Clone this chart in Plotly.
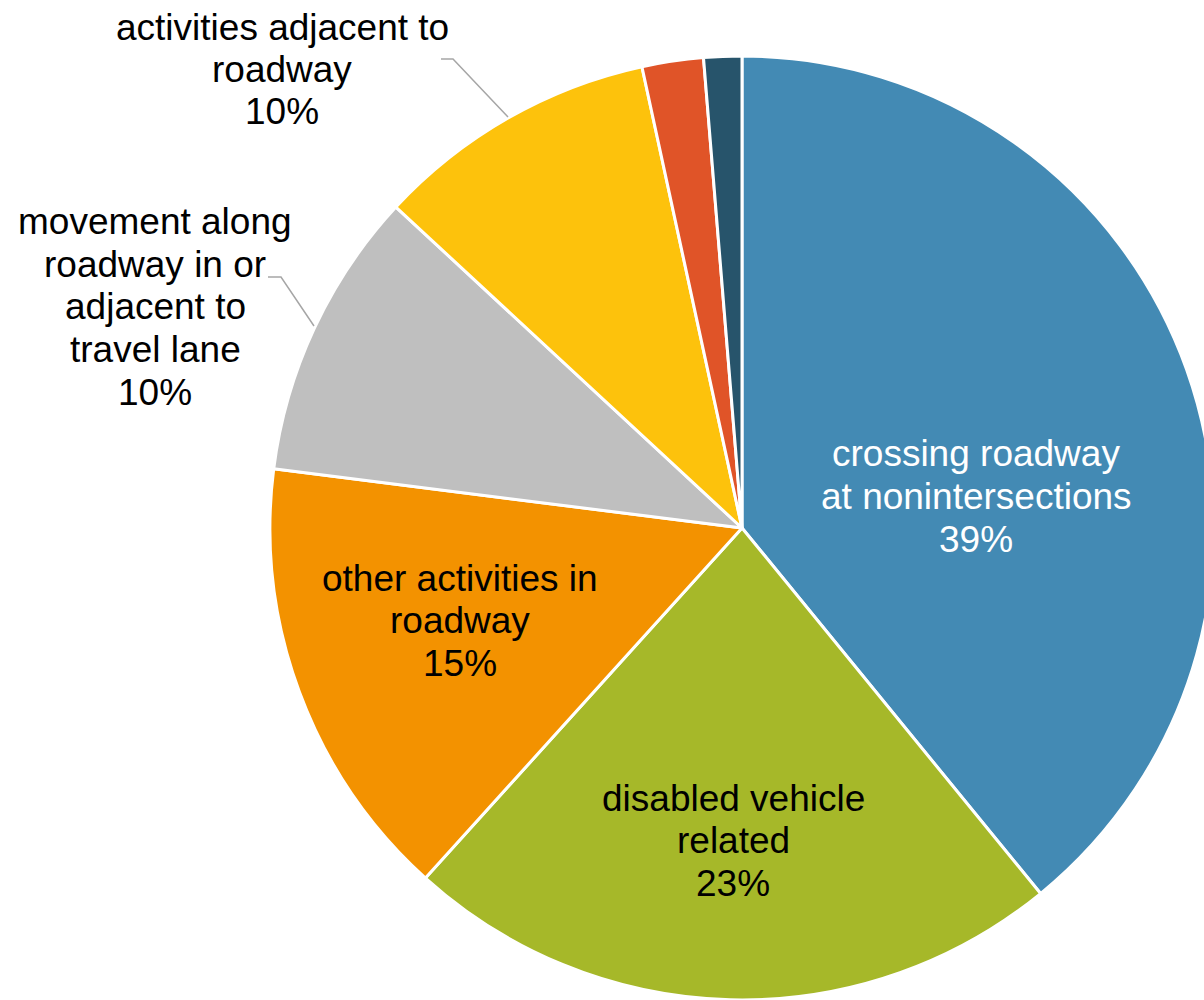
import plotly.graph_objects as go

# ---- data ----
categories = [
    "crossing roadway at nonintersections",
    "disabled vehicle related",
    "other activities in roadway",
    "movement along roadway in or adjacent to travel lane",
    "activities adjacent to roadway",
    "other",
    "unknown",
]
values = [39.1, 22.6, 15.3, 9.9, 9.7, 2.1, 1.3]
label_lines = [
    ["crossing roadway", "at nonintersections"],
    ["disabled vehicle", "related"],
    ["other activities in", "roadway"],
    ["movement along", "roadway in or", "adjacent to", "travel lane"],
    ["activities adjacent to", "roadway"],
    None,
    None,
]

# ---- styles / layout ----
colors = ["#438AB4", "#A6B829", "#F39200", "#BFBFBF", "#FDC20C", "#E05428", "#27546B"]
label_colors = ["white", "black", "black", "black", "black", None, None]
label_first_line_px = [(976, 454), (733, 798), (460, 578), (155, 222), (282, 27), None, None]
LINE_STEP = 42.5
FONT = "Liberation Sans, Arial, sans-serif"
FSIZE = 37

W, H = 1214, 1000
cx, R = 742, 472


def px2paper(x, y):
    return x / W, 1 - y / H


fig = go.Figure(
    go.Pie(
        labels=categories,
        values=values,
        sort=False,
        direction="clockwise",
        rotation=0,
        marker=dict(colors=colors, line=dict(color="white", width=3)),
        textinfo="none",
        hoverinfo="label+percent",
        domain=dict(x=[(cx - R) / W, (cx + R) / W], y=[0, 2 * R / H]),
        showlegend=False,
    )
)

total = sum(values)
annotations = []
for lines, val, col, pos in zip(label_lines, values, label_colors, label_first_line_px):
    if lines is None:
        continue
    all_lines = lines + [f"{round(val / total * 100)}%"]
    for i, t in enumerate(all_lines):
        x, y = px2paper(pos[0], pos[1] + i * LINE_STEP)
        annotations.append(
            dict(
                x=x, y=y, xref="paper", yref="paper",
                text=t, showarrow=False,
                xanchor="center", yanchor="middle",
                font=dict(family=FONT, size=FSIZE, color=col),
            )
        )

# leader lines for outside labels
leaders = [
    [(441, 59), (453, 59), (508, 117)],
    [(268, 277), (281, 277), (314, 326)],
]
shapes = []
for pts in leaders:
    p = [px2paper(*q) for q in pts]
    path = "M " + " L ".join(f"{a:.5f},{b:.5f}" for a, b in p)
    shapes.append(dict(type="path", path=path, xref="paper", yref="paper",
                       line=dict(color="#A6A6A6", width=1.5)))

fig.update_layout(
    width=W, height=H,
    margin=dict(l=0, r=0, t=0, b=0),
    paper_bgcolor="white", plot_bgcolor="white",
    annotations=annotations,
    shapes=shapes,
)

fig.write_html(
    "out.html",
    post_script="document.body.style.margin='0';document.body.style.overflow='hidden';document.documentElement.style.overflow='hidden';",
)
